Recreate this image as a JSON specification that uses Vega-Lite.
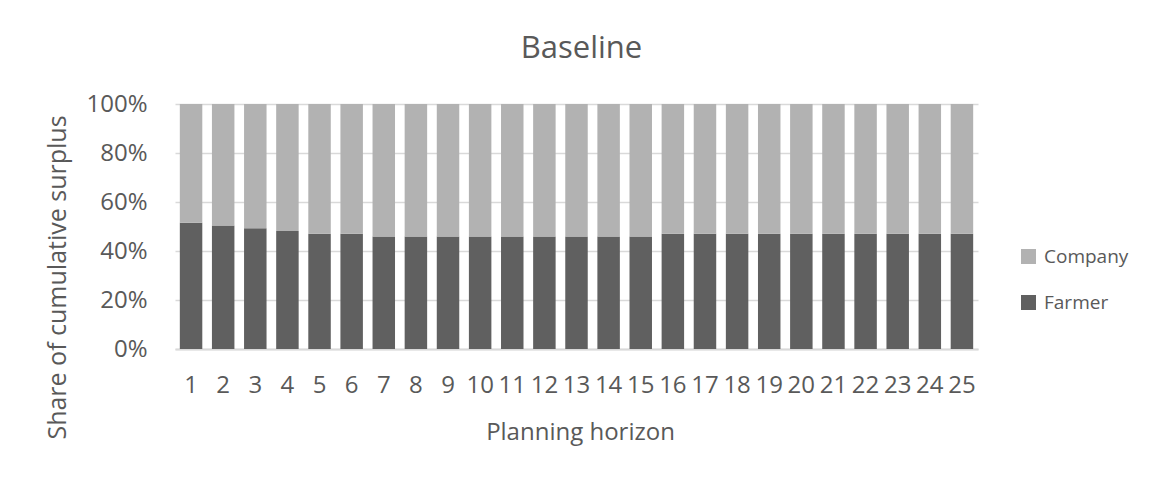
{
  "$schema": "https://vega.github.io/schema/vega-lite/v6.json",
  "width": 803,
  "height": 245,
  "autosize": {"type": "none"},
  "padding": {"left": 175, "top": 104, "right": 172, "bottom": 129},
  "background": "white",
  "title": {
    "text": "Baseline",
    "font": "Open Sans",
    "fontSize": 31,
    "fontWeight": "normal",
    "color": "#595959",
    "anchor": "middle",
    "frame": "group",
    "offset": 27,
    "dx": 5
  },
  "data": {
    "values": [
      {"horizon": 1, "series": "Farmer", "share": 51.5}, {"horizon": 1, "series": "Company", "share": 48.5},
      {"horizon": 2, "series": "Farmer", "share": 50.4}, {"horizon": 2, "series": "Company", "share": 49.6},
      {"horizon": 3, "series": "Farmer", "share": 49.3}, {"horizon": 3, "series": "Company", "share": 50.7},
      {"horizon": 4, "series": "Farmer", "share": 48.2}, {"horizon": 4, "series": "Company", "share": 51.8},
      {"horizon": 5, "series": "Farmer", "share": 47.0}, {"horizon": 5, "series": "Company", "share": 53.0},
      {"horizon": 6, "series": "Farmer", "share": 47.0}, {"horizon": 6, "series": "Company", "share": 53.0},
      {"horizon": 7, "series": "Farmer", "share": 45.9}, {"horizon": 7, "series": "Company", "share": 54.1},
      {"horizon": 8, "series": "Farmer", "share": 45.9}, {"horizon": 8, "series": "Company", "share": 54.1},
      {"horizon": 9, "series": "Farmer", "share": 45.9}, {"horizon": 9, "series": "Company", "share": 54.1},
      {"horizon": 10, "series": "Farmer", "share": 45.9}, {"horizon": 10, "series": "Company", "share": 54.1},
      {"horizon": 11, "series": "Farmer", "share": 45.9}, {"horizon": 11, "series": "Company", "share": 54.1},
      {"horizon": 12, "series": "Farmer", "share": 45.9}, {"horizon": 12, "series": "Company", "share": 54.1},
      {"horizon": 13, "series": "Farmer", "share": 45.9}, {"horizon": 13, "series": "Company", "share": 54.1},
      {"horizon": 14, "series": "Farmer", "share": 45.9}, {"horizon": 14, "series": "Company", "share": 54.1},
      {"horizon": 15, "series": "Farmer", "share": 45.9}, {"horizon": 15, "series": "Company", "share": 54.1},
      {"horizon": 16, "series": "Farmer", "share": 47.0}, {"horizon": 16, "series": "Company", "share": 53.0},
      {"horizon": 17, "series": "Farmer", "share": 47.0}, {"horizon": 17, "series": "Company", "share": 53.0},
      {"horizon": 18, "series": "Farmer", "share": 47.0}, {"horizon": 18, "series": "Company", "share": 53.0},
      {"horizon": 19, "series": "Farmer", "share": 47.0}, {"horizon": 19, "series": "Company", "share": 53.0},
      {"horizon": 20, "series": "Farmer", "share": 47.0}, {"horizon": 20, "series": "Company", "share": 53.0},
      {"horizon": 21, "series": "Farmer", "share": 47.0}, {"horizon": 21, "series": "Company", "share": 53.0},
      {"horizon": 22, "series": "Farmer", "share": 47.0}, {"horizon": 22, "series": "Company", "share": 53.0},
      {"horizon": 23, "series": "Farmer", "share": 47.0}, {"horizon": 23, "series": "Company", "share": 53.0},
      {"horizon": 24, "series": "Farmer", "share": 47.0}, {"horizon": 24, "series": "Company", "share": 53.0},
      {"horizon": 25, "series": "Farmer", "share": 47.0}, {"horizon": 25, "series": "Company", "share": 53.0}
    ]
  },
  "mark": {"type": "bar"},
  "encoding": {
    "x": {
      "field": "horizon",
      "type": "ordinal",
      "scale": {"paddingInner": 0.3, "paddingOuter": 0.15},
      "axis": {
        "title": "Planning horizon",
        "labelAngle": 0,
        "labelOverlap": false,
        "labelPadding": 24,
        "ticks": false,
        "tickSize": 0,
        "domain": true,
        "domainColor": "#d9d9d9",
        "domainWidth": 2,
        "grid": false,
        "titleX": 405,
        "titleY": 83,
        "titleBaseline": "middle",
        "titleAlign": "center"
      }
    },
    "y": {
      "field": "share",
      "type": "quantitative",
      "stack": "normalize",
      "scale": {"domain": [0, 1]},
      "axis": {
        "title": "Share of cumulative surplus",
        "format": ".0%",
        "values": [0, 0.2, 0.4, 0.6, 0.8, 1],
        "domain": false,
        "ticks": false,
        "tickSize": 0,
        "labelPadding": 28,
        "grid": true,
        "gridColor": "#d9d9d9",
        "gridWidth": 1.5,
        "titleAngle": -90,
        "titleX": -118,
        "titleY": 173,
        "titleFontSize": 25,
        "titleBaseline": "middle",
        "titleAlign": "center"
      }
    },
    "color": {
      "field": "series",
      "type": "nominal",
      "scale": {"domain": ["Company", "Farmer"], "range": ["#b2b2b2", "#606060"]},
      "legend": {
        "title": null,
        "orient": "none",
        "legendX": 844,
        "legendY": 143,
        "symbolType": "square",
        "symbolSize": 225,
        "symbolStrokeWidth": 0,
        "labelFont": "Open Sans",
        "labelFontSize": 19,
        "labelColor": "#595959",
        "labelOffset": 6,
        "rowPadding": 26
      }
    },
    "order": {"field": "series", "sort": "descending"}
  },
  "config": {
    "font": "Open Sans",
    "view": {"stroke": null},
    "axis": {
      "labelFont": "Open Sans",
      "labelFontSize": 24,
      "labelColor": "#595959",
      "titleFont": "Open Sans",
      "titleFontSize": 24,
      "titleFontWeight": "normal",
      "titleColor": "#595959"
    }
  }
}
